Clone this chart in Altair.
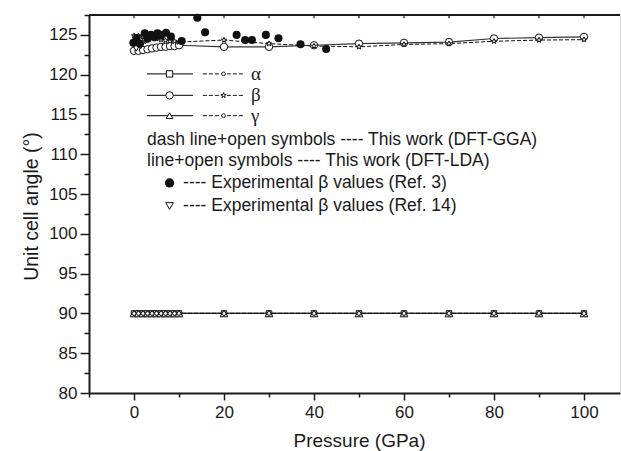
import altair as alt
import pandas as pd

# ---------------- data ----------------
P = [0, 1, 2, 3, 4, 5, 6, 7, 8, 9, 10, 20, 30, 40, 50, 60, 70, 80, 90, 100]

LDA_ALPHA = [90.0, 90.0, 90.0, 90.0, 90.0, 90.0, 90.0, 90.0, 90.0, 90.0, 90.0,
             90.0, 90.0, 90.0, 90.0, 90.0, 90.0, 90.0, 90.0, 90.0]
LDA_BETA = [123.0, 123.0, 123.1, 123.2, 123.3, 123.4, 123.5, 123.5, 123.6, 123.6, 123.7,
            123.5, 123.5, 123.7, 123.9, 124.0, 124.1, 124.55, 124.65, 124.75]
LDA_GAMMA = [90.0, 90.0, 90.0, 90.0, 90.0, 90.0, 90.0, 90.0, 90.0, 90.0, 90.0,
             90.0, 90.0, 90.0, 90.0, 90.0, 90.0, 90.0, 90.0, 90.0]

GGA_ALPHA = [90.0, 90.0, 90.0, 90.0, 90.0, 90.0, 90.0, 90.0, 90.0, 90.0, 90.0,
             90.0, 90.0, 90.0, 90.0, 90.0, 90.0, 90.0, 90.0, 90.0]
GGA_BETA = [124.9, 124.9, 124.8, 124.7, 124.6, 124.5, 124.4, 124.3, 124.2, 124.2, 124.1,
            124.35, 123.9, 123.6, 123.5, 123.8, 123.9, 124.2, 124.35, 124.4]
GGA_GAMMA = [90.0, 90.0, 90.0, 90.0, 90.0, 90.0, 90.0, 90.0, 90.0, 90.0, 90.0,
             90.0, 90.0, 90.0, 90.0, 90.0, 90.0, 90.0, 90.0, 90.0]

EXP3_P = [-0.15, 0.6, 1.3, 2.4, 3.0, 3.8, 4.5, 5.2, 6.0, 7.1, 8.2, 10.6,
          14.07, 15.8, 22.8, 24.7, 26.2, 29.3, 32.1, 37.0, 42.7]
EXP3_BETA = [124.0, 124.6, 123.9, 125.2, 124.5, 125.0, 124.7, 125.2, 124.9, 125.27, 124.8, 124.23,
             127.16, 125.33, 125.0, 124.36, 124.36, 125.0, 124.57, 123.82, 123.23]

EXP14_P = [0.5, 1.5, 2.5, 3.5, 4.5, 5.5]
EXP14_BETA = [123.3, 123.6, 124.2, 124.5, 124.9, 125.1]

X_TICKS = [-10, 0, 10, 20, 30, 40, 50, 60, 70, 80, 90, 100]
TOP_TICKS = [0, 10, 20, 30, 40, 50, 60, 70, 80, 90, 100]
Y_TICKS = [80, 82.5, 85, 87.5, 90, 92.5, 95, 97.5, 100, 102.5, 105, 107.5,
           110, 112.5, 115, 117.5, 120, 122.5, 125, 127.5]
X_DOMAIN = [-10, 108]
Y_DOMAIN = [80, 127.5]

GREEK = ["α", "β", "γ"]
LEGEND_TEXTS = ["dash line+open symbols ---- This work (DFT-GGA)",
                "line+open symbols ---- This work (DFT-LDA)"]
EXP_TEXTS = ["---- Experimental β values (Ref. 3)",
             "---- Experimental β values (Ref. 14)"]

# ---------------- layout constants (data units) ----------------
LEG_ROW_V = [120.1, 117.4, 114.85]
LEG_SOLID_X = (2.9, 13.1)
LEG_SOLID_MARK = 7.9
LEG_DASH_X = (15.3, 24.2)
LEG_DASH_MARK = 19.9
LEG_GREEK_X = 26.0
LEG_TEXT_X = 2.9
LEG_TEXT_V = [111.8, 109.1]
LEG_EXP_MARK_X = 7.9
LEG_EXP_TEXT_X = 10.9
LEG_EXP_V = [106.4, 103.5]
TOP_TICK_LEN = 0.4

FONT = "Liberation Sans, Arial, sans-serif"
SERIF = "Liberation Serif, Times New Roman, serif"
INK = "#1a1a1a"
STAR = "M0,-1L0.24,-0.33L0.95,-0.31L0.38,0.12L0.59,0.81L0,0.4L-0.59,0.81L-0.38,0.12L-0.95,-0.31L-0.24,-0.33Z"

# ---------------- tables ----------------
def series(vals, method, param):
    return pd.DataFrame({"p": P, "v": vals, "method": method, "param": param})

lda = pd.concat([series(LDA_ALPHA, "LDA", "a"), series(LDA_BETA, "LDA", "b"),
                 series(LDA_GAMMA, "LDA", "g")], ignore_index=True)
gga = pd.concat([series(GGA_ALPHA, "GGA", "a"), series(GGA_BETA, "GGA", "b"),
                 series(GGA_GAMMA, "GGA", "g")], ignore_index=True)
exp3 = pd.DataFrame({"p": EXP3_P, "v": EXP3_BETA})
exp14 = pd.DataFrame({"p": EXP14_P, "v": EXP14_BETA})

xs = alt.Scale(domain=X_DOMAIN, nice=False, zero=False)
ys = alt.Scale(domain=Y_DOMAIN, nice=False, zero=False)

x_axis = alt.Axis(
    values=X_TICKS, grid=False,
    labelExpr="datum.value % 20 === 0 ? datum.label : ''",
    tickSize={"condition": {"test": "datum.value % 20 === 0", "value": 7}, "value": 4},
    domainColor=INK, domainWidth=2, tickColor=INK, tickWidth=1.5,
    labelFont=FONT, labelFontSize=17, labelColor=INK, labelPadding=4,
    titleFont=FONT, titleFontSize=19, titleFontWeight="normal", titleColor=INK,
    titleX=270, titleY=53, titleAlign="center", titleBaseline="alphabetic",
)
y_axis = alt.Axis(
    values=Y_TICKS, grid=False,
    labelExpr="datum.value % 5 === 0 ? datum.label : ''",
    tickSize={"condition": {"test": "datum.value % 5 === 0", "value": 9}, "value": 5},
    domainColor=INK, domainWidth=2, tickColor=INK, tickWidth=1.5,
    labelFont=FONT, labelFontSize=17, labelColor=INK, labelPadding=3,
    titleFont=FONT, titleFontSize=19.5, titleFontWeight="normal", titleColor=INK,
    titleX=-52, titleY=191, titleAngle=270, titleAlign="center", titleBaseline="alphabetic",
)

X = alt.X("p:Q", scale=xs, axis=x_axis, title="Pressure (GPa)")
Y = alt.Y("v:Q", scale=ys, axis=y_axis, title="Unit cell angle (°)")

layers = []

# frame top line + inward ticks
top_line = pd.DataFrame({"p": [X_DOMAIN[0]], "p2": [X_DOMAIN[1]], "v": [Y_DOMAIN[1]]})
layers.append(alt.Chart(top_line).mark_rule(color=INK, strokeWidth=2).encode(
    x=X, x2="p2:Q", y=Y))
top_ticks = pd.DataFrame({"p": TOP_TICKS, "v": [Y_DOMAIN[1]] * len(TOP_TICKS),
                          "v2": [Y_DOMAIN[1] - TOP_TICK_LEN] * len(TOP_TICKS)})
layers.append(alt.Chart(top_ticks).mark_rule(color=INK, strokeWidth=1.2).encode(
    x=X, y=Y, y2="v2:Q"))

# lines
layers.append(alt.Chart(lda).mark_line(color="#333", strokeWidth=1.2).encode(
    x=X, y=Y, detail="param:N", order="p:Q"))
layers.append(alt.Chart(gga).mark_line(color="#111", strokeWidth=1, strokeDash=[4, 2]).encode(
    x=X, y=Y, detail="param:N", order="p:Q"))

# LDA markers
shapes_lda = {"a": ("square", 30), "b": ("circle", 55), "g": ("triangle-up", 60)}
for k, (shape, size) in shapes_lda.items():
    d = lda[lda.param == k]
    layers.append(alt.Chart(d).mark_point(shape=shape, size=size, filled=True, fill="white",
                                          stroke="#111", strokeWidth=1, opacity=1).encode(x=X, y=Y))
# GGA markers
for k in ["a", "g"]:
    d = gga[gga.param == k]
    layers.append(alt.Chart(d).mark_point(shape="circle", size=14, filled=True, fill="white",
                                          stroke="#111", strokeWidth=0.9, opacity=1).encode(x=X, y=Y))
d = gga[gga.param == "b"]
layers.append(alt.Chart(d).mark_point(shape=STAR, size=30, filled=True, fill="white",
                                      stroke="#111", strokeWidth=1, opacity=1).encode(x=X, y=Y))

# experimental
layers.append(alt.Chart(exp14).mark_point(shape="triangle-down", size=40, filled=True, fill="white",
                                          stroke="#111", strokeWidth=1, opacity=1).encode(x=X, y=Y))
layers.append(alt.Chart(exp3).mark_point(shape="circle", size=65, filled=True, color="#111",
                                         opacity=1).encode(x=X, y=Y))

# ---------------- legend ----------------
leg_solid = pd.DataFrame({"p": [LEG_SOLID_X[0]] * 3, "p2": [LEG_SOLID_X[1]] * 3, "v": LEG_ROW_V})
leg_dash = pd.DataFrame({"p": [LEG_DASH_X[0]] * 3, "p2": [LEG_DASH_X[1]] * 3, "v": LEG_ROW_V})
layers.append(alt.Chart(leg_solid).mark_rule(color="#333", strokeWidth=1.2).encode(x=X, x2="p2:Q", y=Y))
layers.append(alt.Chart(leg_dash).mark_rule(color="#111", strokeWidth=1, strokeDash=[4, 2]).encode(
    x=X, x2="p2:Q", y=Y))
for i, (shape, size) in enumerate([("square", 40), ("circle", 55), ("triangle-up", 45)]):
    d = pd.DataFrame({"p": [LEG_SOLID_MARK], "v": [LEG_ROW_V[i]]})
    layers.append(alt.Chart(d).mark_point(shape=shape, size=size, filled=True, fill="white",
                                          stroke="#111", strokeWidth=1, opacity=1).encode(x=X, y=Y))
for i in [0, 2]:
    d = pd.DataFrame({"p": [LEG_DASH_MARK], "v": [LEG_ROW_V[i]]})
    layers.append(alt.Chart(d).mark_point(shape="circle", size=14, filled=True, fill="white",
                                          stroke="#111", strokeWidth=0.9, opacity=1).encode(x=X, y=Y))
d = pd.DataFrame({"p": [LEG_DASH_MARK], "v": [LEG_ROW_V[1]]})
layers.append(alt.Chart(d).mark_point(shape=STAR, size=30, filled=True, fill="white",
                                      stroke="#111", strokeWidth=1, opacity=1).encode(x=X, y=Y))
greek = pd.DataFrame({"p": [LEG_GREEK_X] * 3, "v": LEG_ROW_V, "t": GREEK})
layers.append(alt.Chart(greek).mark_text(font=SERIF, fontSize=19, align="left", baseline="middle",
                                         color=INK).encode(x=X, y=Y, text="t:N"))
texts = pd.DataFrame({"p": [LEG_TEXT_X] * 2, "v": LEG_TEXT_V, "t": LEGEND_TEXTS})
layers.append(alt.Chart(texts).mark_text(font=FONT, fontSize=17.5, align="left", baseline="middle",
                                         color=INK).encode(x=X, y=Y, text="t:N"))
d = pd.DataFrame({"p": [LEG_EXP_MARK_X], "v": [LEG_EXP_V[0]]})
layers.append(alt.Chart(d).mark_point(shape="circle", size=85, filled=True, color="#111",
                                      opacity=1).encode(x=X, y=Y))
d = pd.DataFrame({"p": [LEG_EXP_MARK_X], "v": [LEG_EXP_V[1]]})
layers.append(alt.Chart(d).mark_point(shape="triangle-down", size=60, filled=True, fill="white",
                                      stroke="#111", strokeWidth=1, opacity=1).encode(x=X, y=Y))
exp_t = pd.DataFrame({"p": [LEG_EXP_TEXT_X] * 2, "v": LEG_EXP_V, "t": EXP_TEXTS})
layers.append(alt.Chart(exp_t).mark_text(font=FONT, fontSize=17.5, align="left", baseline="middle",
                                         color=INK).encode(x=X, y=Y, text="t:N"))

chart = alt.layer(*layers).properties(
    width=531, height=378,
    autosize=alt.AutoSizeParams(type="none"),
    padding={"left": 89, "top": 15, "right": 1, "bottom": 58},
).configure_view(stroke=None).configure(background="white")

chart.save("out.html", embed_options={"renderer": "svg", "actions": False})
